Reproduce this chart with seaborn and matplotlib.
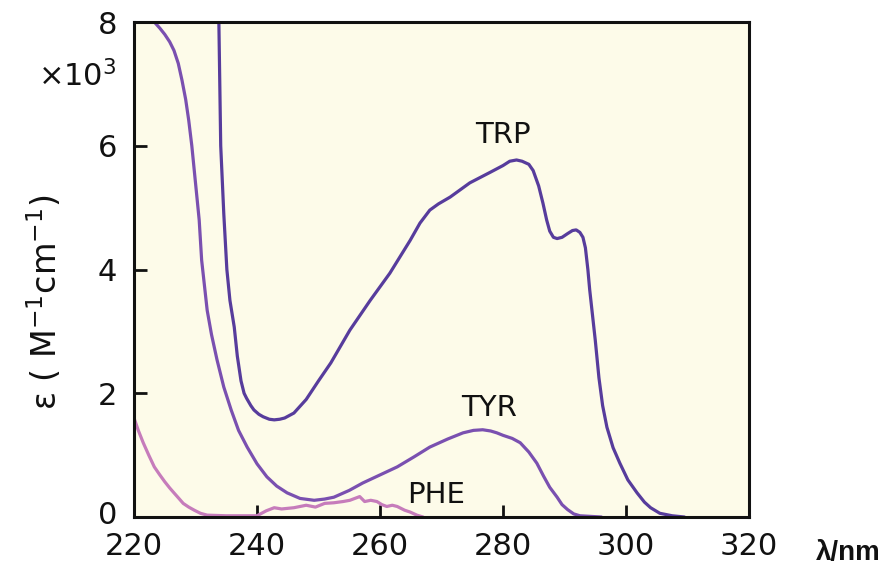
import numpy as np
import pandas as pd
import matplotlib
matplotlib.use("Agg")
import matplotlib.pyplot as plt
import matplotlib.transforms as mtransforms
import seaborn as sns

# ---- data ----
trp_wl = [233.6, 233.8, 234.1, 234.6, 235.1, 235.6, 236.3, 236.8, 237.4, 237.9, 238.3, 239.0, 239.5,
          240.3, 241.0, 242.0, 242.8, 243.7, 244.5, 246.0, 248.0, 250.0, 252.0, 255.1, 258.4,
          261.6, 264.9, 266.5, 268.1, 269.5, 271.4, 274.6, 277.9, 280.0, 281.1, 282.2, 283.1,
          284.2, 284.9, 285.8, 286.5, 287.1, 287.6, 288.2, 288.8, 289.6, 290.5, 291.3, 291.9,
          292.5, 293.0, 293.4, 293.8, 294.1, 295.0, 295.6, 296.2, 296.9, 297.9, 299.0, 300.3,
          301.8, 303.0, 304.0, 305.5, 307.5, 309.5]
trp_eps = [8.6, 8.0, 6.0, 4.9, 4.0, 3.5, 3.07, 2.6, 2.2, 2.0, 1.92, 1.8, 1.73,
           1.66, 1.62, 1.58, 1.57, 1.58, 1.6, 1.68, 1.9, 2.2, 2.49, 3.02, 3.5,
           3.94, 4.47, 4.75, 4.96, 5.06, 5.17, 5.40, 5.57, 5.68, 5.75, 5.77, 5.75,
           5.7, 5.6, 5.35, 5.07, 4.8, 4.62, 4.52, 4.5, 4.52, 4.58, 4.63, 4.64,
           4.6, 4.52, 4.35, 4.0, 3.67, 2.86, 2.25, 1.8, 1.45, 1.12, 0.87, 0.6,
           0.39, 0.24, 0.15, 0.06, 0.02, 0.0]

tyr_wl = [222.6, 223.3, 224.2, 225.0, 225.8, 226.5, 227.2, 227.8, 228.4, 228.9, 229.4, 229.8,
          230.2, 230.6, 231.0, 231.5, 231.9, 232.6, 233.5, 234.6, 235.8, 237.0, 238.4, 240.0,
          241.6, 243.2, 244.9, 247.0, 249.3, 251.0, 252.5, 255.0, 257.2, 260.0, 262.8, 265.5,
          268.1, 271.0, 273.5, 275.2, 276.7, 278.0, 279.0, 280.0, 281.5, 282.8, 284.2, 285.5,
          286.6, 287.6, 288.8, 289.6, 290.5, 291.5, 292.5, 296.0]
tyr_eps = [8.3, 8.0, 7.9, 7.8, 7.68, 7.54, 7.33, 7.06, 6.75, 6.41, 6.0, 5.6,
           5.2, 4.8, 4.15, 3.7, 3.34, 2.95, 2.54, 2.1, 1.73, 1.4, 1.13, 0.86,
           0.65, 0.5, 0.39, 0.3, 0.27, 0.29, 0.32, 0.43, 0.55, 0.68, 0.81, 0.97,
           1.13, 1.26, 1.36, 1.40, 1.41, 1.39, 1.36, 1.32, 1.27, 1.2, 1.05, 0.87,
           0.66, 0.48, 0.32, 0.2, 0.12, 0.05, 0.02, 0.0]

phe_wl = [220.0, 220.7, 221.5, 222.4, 223.3, 224.2, 225.0, 225.8, 226.5, 227.3, 228.0, 228.9,
          229.8, 230.8, 231.9, 235.0, 240.0, 241.5, 242.8, 244.0, 246.0, 248.0, 249.5, 251.0,
          252.5, 254.0, 255.1, 256.7, 257.5, 258.5, 259.5, 260.3, 261.1, 262.0, 262.8, 264.0,
          264.9, 266.0, 267.0]
phe_eps = [1.6, 1.4, 1.2, 1.0, 0.81, 0.68, 0.57, 0.47, 0.39, 0.3, 0.22, 0.16,
           0.11, 0.06, 0.03, 0.02, 0.02, 0.1, 0.15, 0.13, 0.15, 0.19, 0.16, 0.22,
           0.23, 0.25, 0.27, 0.33, 0.25, 0.27, 0.25, 0.2, 0.17, 0.19, 0.17, 0.11,
           0.08, 0.03, 0.0]

labels = ["TRP", "TYR", "PHE"]
label_pos_wl = [280.0, 277.7, 269.1]
label_pos_eps = [6.17, 1.76, 0.36]

x_ticks = [220, 240, 260, 280, 300, 320]
y_ticks = [0, 2, 4, 6, 8]

colors = {"TRP": "#573c9c", "TYR": "#7a50b0", "PHE": "#c67cbb"}

# ---- figure ----
sns.set_style("ticks")
plt.rcParams["font.family"] = ["DejaVu Sans"]

fig = plt.figure(figsize=(8.88, 5.70), dpi=100)
ax = fig.add_axes([134/888, 1-517/570, (749-134)/888, (517-22)/570])
ax.set_facecolor("#fdfbe9")

series = [("PHE", phe_wl, phe_eps), ("TYR", tyr_wl, tyr_eps), ("TRP", trp_wl, trp_eps)]
for name, wl, eps in series:
    df = pd.DataFrame({"wl": wl, "eps": eps})
    sns.lineplot(data=df, x="wl", y="eps", ax=ax, color=colors[name], lw=2.3,
                 sort=False, estimator=None)

for name, lx, ly in zip(labels, label_pos_wl, label_pos_eps):
    ax.text(lx, ly, name, ha="center", va="center", fontsize=21, color="#111111")

ax.set_xlim(220, 320)
ax.set_ylim(0, 8)
ax.set_xticks(x_ticks)
ax.set_yticks(y_ticks)
ax.set_xticklabels([str(t) for t in x_ticks])
ax.set_yticklabels([str(t) for t in y_ticks])
ax.tick_params(direction="in", length=9, width=2.0, labelsize=22, colors="#111111")
ax.tick_params(axis="y", pad=12)
ax.tick_params(axis="x", pad=11)
for s in ax.spines.values():
    s.set_linewidth(2.2)
    s.set_color("#111111")
    s.set_visible(True)
ax.set_xlabel("")
ax.set_ylabel("")

# nudge the "0" y label up a little so it does not collide with "220"
zero_lbl = ax.get_yticklabels()[0]
zero_lbl.set_transform(zero_lbl.get_transform() +
                       mtransforms.ScaledTranslation(0, 3/72, fig.dpi_scale_trans))

fig.text(117/888, 1-76/570, "×10$^3$", ha="right", va="center", fontsize=22, color="#111111")
fig.text(45/888, 1-302/570, "ε ( M$^{-1}$cm$^{-1}$)", rotation=90, ha="center", va="center",
         fontsize=24, color="#111111")
fig.text(848/888, 1-553/570, "λ/nm", ha="center", va="center", fontsize=20,
         fontweight="bold", family=["Liberation Sans", "DejaVu Sans"], color="#111111")

fig.savefig("out.png", dpi=100, facecolor="white")
